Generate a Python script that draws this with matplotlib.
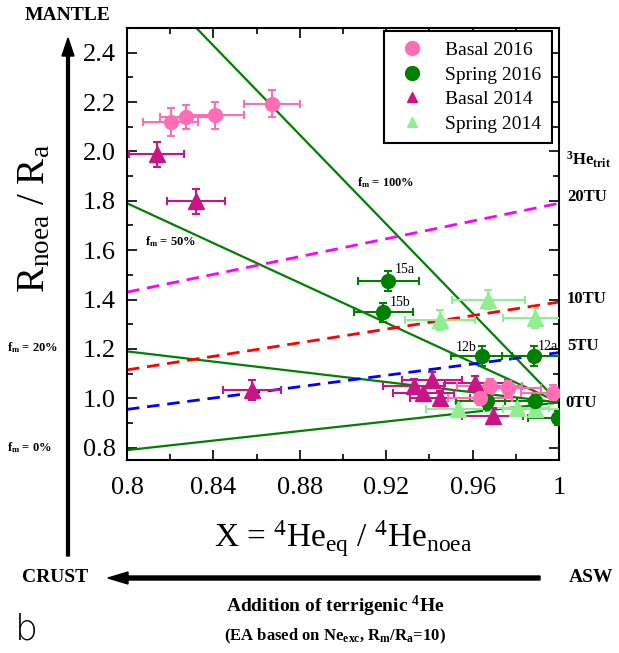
import numpy as np
import matplotlib
matplotlib.use('Agg')
import matplotlib.pyplot as plt

plt.rcParams['font.family'] = ['Liberation Serif', 'DejaVu Serif']
plt.rcParams['mathtext.fontset'] = 'custom'
plt.rcParams['mathtext.rm'] = 'Liberation Serif'
plt.rcParams['mathtext.it'] = 'Liberation Serif:italic'
plt.rcParams['mathtext.bf'] = 'Liberation Serif:bold'

# Dados
basal16_x = [0.8202, 0.8273, 0.8407, 0.8671, 0.9680, 0.9765, 0.9634, 0.9974]
basal16_y = [2.119, 2.139, 2.147, 2.193, 1.049, 1.040, 1.002, 1.022]
basal16_xerr = [0.0127, 0.0120, 0.0136, 0.0130, 0.015, 0.015, 0.015, 0.015]
basal16_yerr = [0.055, 0.05, 0.055, 0.054, 0.03, 0.03, 0.03, 0.03]

spring16_x = [0.9210, 0.9187, 0.9642, 0.9884, 0.9665, 0.9889, 0.9997]
spring16_y = [1.474, 1.348, 1.170, 1.170, 0.987, 0.987, 0.920]
spring16_xerr = [0.0142, 0.0136, 0.0142, 0.0147, 0.014, 0.014, 0.014]
spring16_yerr = [0.04, 0.04, 0.04, 0.04, 0.03, 0.03, 0.03]
spring16_ids = ['15a', '15b', '12b', '12a']

basal14_x = [0.8137, 0.8319, 0.8579, 0.9327, 0.9413, 0.9372, 0.9449, 0.9611, 0.9693]
basal14_y = [1.988, 1.798, 1.034, 1.050, 1.075, 1.020, 1.000, 1.062, 0.930]
basal14_xerr = [0.0127, 0.0136, 0.0135, 0.014, 0.014, 0.014, 0.014, 0.014, 0.014]
basal14_yerr = [0.052, 0.05, 0.04, 0.03, 0.03, 0.03, 0.03, 0.03, 0.03]

spring14_x = [0.9673, 0.9449, 0.9889, 0.9534, 0.9804, 0.9889]
spring14_y = [1.400, 1.318, 1.325, 0.955, 0.960, 0.955]
spring14_xerr = [0.017, 0.016, 0.015, 0.015, 0.015, 0.015]
spring14_yerr = [0.04, 0.04, 0.04, 0.03, 0.03, 0.03]

# Linhas de mistura (f_m) e de trítio
fm_labels = ['0%', '20%', '50%', '100%']
fm_r_start = [0.79, 1.19, 1.79, 2.79]
fm_r_end = 0.983
trit_labels = ['5TU', '10TU', '20TU']
trit_colors = ['#0000ff', '#ff0000', '#ff00ff']
trit_r_start = [0.955, 1.115, 1.43]
trit_r_end = [1.185, 1.39, 1.79]
x_ends = [0.8, 1.0]

W, H = 619, 653
fig = plt.figure(figsize=(W / 100, H / 100), dpi=100)
ax = fig.add_axes([127 / W, 1 - 460 / H, 432 / W, 432 / H])

for r0 in fm_r_start:
    ax.plot(x_ends, [r0, fm_r_end], color='#008000', lw=1.6, zorder=2)
for c, r0, r1 in zip(trit_colors, trit_r_start, trit_r_end):
    ax.plot(x_ends, [r0, r1], color=c, lw=2, dashes=(4.5, 2.8), zorder=2)

series = [
    (spring14_x, spring14_y, spring14_xerr, spring14_yerr, '#90ee90', '^', 11, 'Spring 2014'),
    (basal14_x, basal14_y, basal14_xerr, basal14_yerr, '#c71585', '^', 11, 'Basal 2014'),
    (spring16_x, spring16_y, spring16_xerr, spring16_yerr, '#008000', 'o', 10, 'Spring 2016'),
    (basal16_x, basal16_y, basal16_xerr, basal16_yerr, '#ff6eb4', 'o', 10, 'Basal 2016'),
]
handles = {}
for xs, ys, xe, ye, c, m, ms, lab in series:
    ax.errorbar(xs, ys, xerr=xe, yerr=ye, fmt=m, color=c, ms=ms,
                elinewidth=1.5, capsize=3, capthick=1.5, zorder=3)
    handles[lab] = ax.plot([], [], m, color=c, ms=ms if m == 'o' else 7)[0]

id_offsets = [(0.003, 0.047), (0.003, 0.042), (-0.012, 0.035), (0.0016, 0.039)]
for lab, x, y, (dx, dy) in zip(spring16_ids, spring16_x, spring16_y, id_offsets):
    ax.text(x + dx, y + dy, lab, fontsize=10, va='center')

ax.text(0.9065, 1.874, r'$\mathbf{f_m}$ = 100%', fontsize=9, weight='bold', va='center')
ax.text(0.8083, 1.635, r'$\mathbf{f_m}$ = 50%', fontsize=9, weight='bold', va='center')

ax.set_xlim(0.8, 1.0)
ax.set_ylim(0.75, 2.5)
ax.set_xticks([0.8, 0.84, 0.88, 0.92, 0.96, 1.0])
ax.set_xticklabels(['0.8', '0.84', '0.88', '0.92', '0.96', '1'])
ax.set_xticks(np.arange(0.8, 1.001, 0.02), minor=True)
ax.set_yticks(np.arange(0.8, 2.41, 0.2))
ax.set_yticklabels(['%.1f' % v for v in np.arange(0.8, 2.41, 0.2)])
ax.set_yticks(np.arange(0.8, 2.5, 0.1), minor=True)
ax.tick_params(which='both', direction='in', top=True, right=True, labelsize=19, width=1.2)
ax.tick_params(which='major', length=7)
ax.tick_params(axis='x', which='major', pad=12)
ax.tick_params(axis='y', which='major', pad=8)
ax.tick_params(which='minor', length=4)
for s in ax.spines.values():
    s.set_linewidth(1.5)

ax.set_xlabel(r'X = $^{4}$He$_{\mathrm{eq}}$ / $^{4}$He$_{\mathrm{noea}}$', fontsize=24, labelpad=14)
ax.set_ylabel(r'R$_{\mathrm{noea}}$ / R$_{\mathrm{a}}$', fontsize=28)
ax.yaxis.set_label_coords(-0.17, 0.56)

leg = ax.legend([handles[k] for k in ['Basal 2016', 'Spring 2016', 'Basal 2014', 'Spring 2014']],
                ['Basal 2016', 'Spring 2016', 'Basal 2014', 'Spring 2014'],
                loc='upper right', bbox_to_anchor=(552 / W, 1 - 31 / H), bbox_transform=fig.transFigure,
                borderaxespad=0, fontsize=14, fancybox=False, edgecolor='black', framealpha=1,
                handlelength=1.8, handletextpad=0.8, borderpad=0.55, labelspacing=0.35)
leg.get_frame().set_linewidth(1.5)

# textos e setas fora dos eixos (coordenadas em pixels da figura)
def ftext(px, py, s, **kw):
    fig.text(px / W, 1 - py / H, s, **kw)

ftext(566, 160, r'$^{\mathbf{3}}\mathbf{He_{trit}}$', fontsize=12, weight='bold', va='center')
ftext(567, 197, '20TU', fontsize=12, weight='bold', va='center')
ftext(567, 299, '10TU', fontsize=12, weight='bold', va='center')
ftext(567, 346, '5TU', fontsize=12, weight='bold', va='center')
ftext(565, 403, '0TU', fontsize=12, weight='bold', va='center')
ftext(7, 348, r'$\mathbf{f_m}$ = 20%', fontsize=9, weight='bold', va='center')
ftext(7, 448, r'$\mathbf{f_m}$ = 0%', fontsize=9, weight='bold', va='center')

ftext(68, 16, 'MANTLE', fontsize=14, weight='bold', ha='center', va='center')
ftext(55, 578, 'CRUST', fontsize=14, weight='bold', ha='center', va='center')
ftext(591, 578, 'ASW', fontsize=14, weight='bold', ha='center', va='center')
ftext(335, 606, r'Addition of terrigenic $^{\mathbf{4}}$He', fontsize=14, weight='bold', ha='center', va='center')
ftext(335, 636, r'(EA based on Ne$_{\mathbf{exc}}$, R$_{\mathbf{m}}$/R$_{\mathbf{a}}$=10)', fontsize=12,
      weight='bold', ha='center', va='center')
ftext(26, 630, 'b', fontsize=26, family='DejaVu Sans', weight='light', ha='center', va='center')

fig.patches.append(matplotlib.patches.FancyArrow(
    68 / W, 1 - 556 / H, 0, (556 - 38) / H, width=3 / H, head_width=12 / W, head_length=18 / H,
    length_includes_head=True, color='black', transform=fig.transFigure, figure=fig))
fig.patches.append(matplotlib.patches.FancyArrow(
    540 / W, 1 - 578 / H, -(540 - 108) / W, 0, width=4 / H, head_width=12 / H, head_length=20 / W,
    length_includes_head=True, color='black', transform=fig.transFigure, figure=fig))

fig.savefig('out.png', dpi=100)
